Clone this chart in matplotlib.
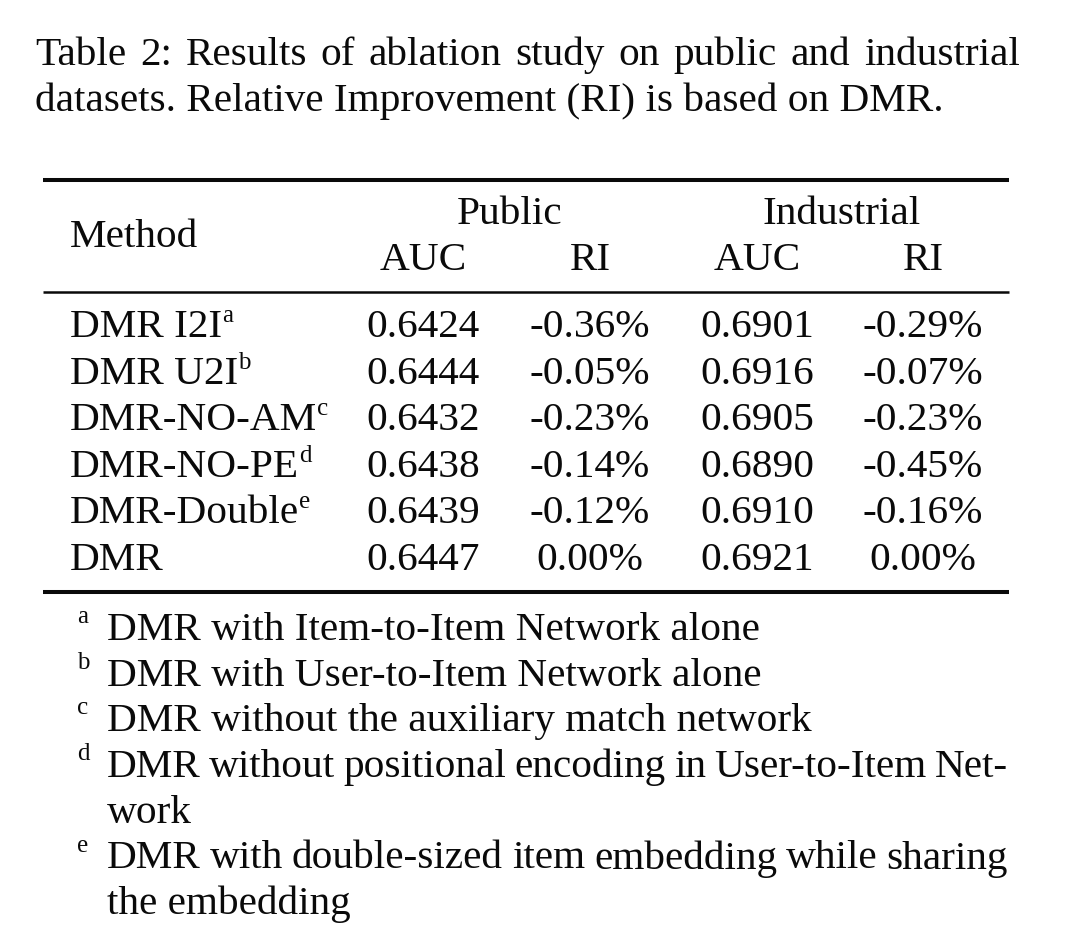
import matplotlib
matplotlib.use("Agg")
import matplotlib.pyplot as plt
from matplotlib.lines import Line2D

# ---------------- data ----------------
caption_lines = ["Table 2: Results of ablation study on public and industrial",
                 "datasets. Relative Improvement (RI) is based on DMR."]
group_labels = ["Public", "Industrial"]
sub_labels = ["AUC", "RI", "AUC", "RI"]
methods = ["DMR I2I", "DMR U2I", "DMR-NO-AM", "DMR-NO-PE", "DMR-Double", "DMR"]
method_marks = ["a", "b", "c", "d", "e", ""]
public_auc = [0.6424, 0.6444, 0.6432, 0.6438, 0.6439, 0.6447]
public_ri = [-0.36, -0.05, -0.23, -0.14, -0.12, 0.00]
industrial_auc = [0.6901, 0.6916, 0.6905, 0.6890, 0.6910, 0.6921]
industrial_ri = [-0.29, -0.07, -0.23, -0.45, -0.16, 0.00]
footnote_marks = ["a", "b", "c", "d", "e"]
footnote_lines = [
    ["DMR with Item-to-Item Network alone"],
    ["DMR with User-to-Item Network alone"],
    ["DMR without the auxiliary match network"],
    ["DMR without positional encoding in User-to-Item Net-", "work"],
    ["DMR with double-sized item embedding while sharing", "the embedding"],
]

# ---------------- layout ----------------
W, H = 1080, 944
fig = plt.figure(figsize=(W / 100, H / 100), dpi=100)
fig.patch.set_facecolor("white")
FONT = "Liberation Serif"
COL = "#0a0a0a"
FS = 29.7
SUP_FS = 18
renderer = fig.canvas.get_renderer()


def P(x, y):
    return x / W, 1 - y / H


def txt(x, y, s, ha="left", fs=FS):
    t = fig.text(*P(x, y), s, fontsize=fs, family=FONT, color=COL,
                 ha=ha, va="baseline")
    return t


def width(t):
    return t.get_window_extent(renderer).width


def justify(x0, x1, y, s, fs=FS):
    words = s.split(" ")
    ts = [txt(0, y, w, fs=fs) for w in words]
    ws = [width(t) for t in ts]
    gap = (x1 - x0 - sum(ws)) / max(len(words) - 1, 1)
    x = x0
    for t, w in zip(ts, ws):
        t.set_position(P(x, y))
        x += w + gap


def sup_after(t, y, mark):
    if not mark:
        return
    x1 = t.get_window_extent(renderer).x1
    txt(x1, y - 15, mark, fs=SUP_FS)


# caption
justify(35, 1020, 65, caption_lines[0])
txt(35, 111, caption_lines[1])

# rules
def rule(y, lw):
    fig.add_artist(Line2D([43 / W, 1009 / W], [1 - y / H, 1 - y / H],
                          lw=lw, color=COL, solid_capstyle="butt"))

rule(180, 2.9)
rule(292, 1.8)
rule(592, 2.9)

# header
txt(70, 247, "Method")
group_x = [510, 842]
for gx, g in zip(group_x, group_labels):
    txt(gx, 224, g, ha="center")
col_x = [423, 590, 757, 923]
for cx, s in zip(col_x, sub_labels):
    txt(cx, 270, s, ha="center")

# rows
row_y0, row_dy = 337, 46.6
for i, m in enumerate(methods):
    y = row_y0 + i * row_dy
    t = txt(70, y, m)
    sup_after(t, y, method_marks[i])
    vals = [f"{public_auc[i]:.4f}", f"{public_ri[i]:.2f}%",
            f"{industrial_auc[i]:.4f}", f"{industrial_ri[i]:.2f}%"]
    for cx, v in zip(col_x, vals):
        txt(cx, y, v, ha="center")

# footnotes
fy, fdy = 640, 45.7
line_i = 0
for mark, lines in zip(footnote_marks, footnote_lines):
    y = fy + line_i * fdy
    txt(83, y - 17, mark, ha="center", fs=SUP_FS)
    for j, ln in enumerate(lines):
        yy = fy + line_i * fdy
        if j < len(lines) - 1:
            justify(107, 1008, yy, ln)
        else:
            txt(107, yy, ln)
        line_i += 1

fig.savefig("out.png", dpi=100, facecolor="white")
